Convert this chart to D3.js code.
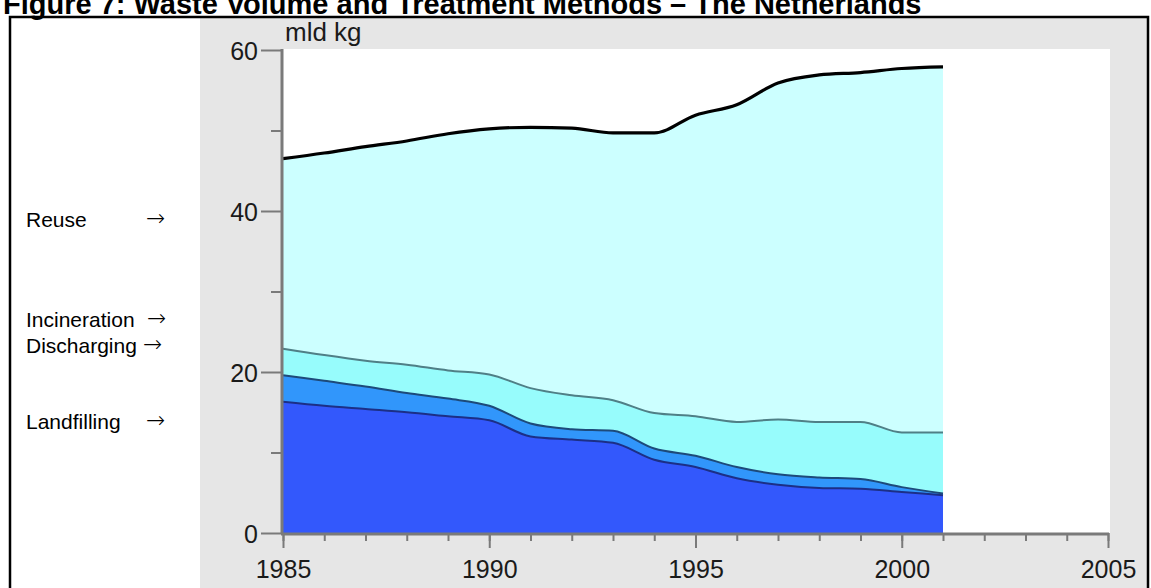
<!DOCTYPE html>
<html>
<head>
<meta charset="utf-8">
<script src="https://cdn.jsdelivr.net/npm/d3@7"></script>
<style>
  body { margin: 0; background: #ffffff; overflow: hidden; }
  svg { display: block; font-family: "Liberation Sans", Arial, sans-serif; }
</style>
</head>
<body>
<div id="chart"></div>
<script>
// values, mld kg per year
let years = [1985, 1986, 1987, 1988, 1989, 1990, 1991, 1992, 1993, 1994, 1995, 1996, 1997, 1998, 1999, 2000, 2001];
let landfilling  = [16.3, 15.8, 15.4, 15.0, 14.5, 14.0, 12.0, 11.6, 11.2, 9.1, 8.2, 6.8, 6.0, 5.6, 5.5, 5.1, 4.7];
let discharging  = [3.3, 3.1, 2.8, 2.4, 2.2, 1.8, 1.6, 1.3, 1.5, 1.4, 1.4, 1.4, 1.3, 1.3, 1.2, 0.6, 0.2];
let incineration = [3.3, 3.2, 3.2, 3.5, 3.5, 3.9, 4.4, 4.2, 3.8, 4.4, 4.9, 5.6, 6.8, 6.9, 7.1, 6.8, 7.6];
let reuse        = [23.6, 25.1, 26.6, 27.8, 29.4, 30.5, 32.4, 33.2, 33.2, 34.8, 37.4, 39.4, 41.8, 43.1, 43.4, 45.2, 45.4];

let seriesKeys = ["landfilling", "discharging", "incineration", "reuse"];
let fills   = ["#3358fc", "#3196fb", "#97fcfc", "#ccffff"];
let strokes = ["#1c2f86", "#1d4a7a", "#4f7f86", "#000000"];

let yMajor = [0, 20, 40, 60];
let yMinor = [10, 30, 50];
let xMajor = [1985, 1990, 1995, 2000, 2005];
let xMinor = d3.range(1985, 2006);

let legendLabels = ["Reuse", "Incineration", "Discharging", "Landfilling"];
let legendY = [227, 327, 353, 429];
let arrowX = [146, 147, 143, 146];

let width = 1151;
let height = 588;

let rows = years.map((yr, i) => ({
    year: yr,
    landfilling: landfilling[i],
    discharging: discharging[i],
    incineration: incineration[i],
    reuse: reuse[i]
}));

let stacked = d3.stack().keys(seriesKeys)(rows);

let svg = d3.select("#chart")
    .append("svg")
    .attr("width", width)
    .attr("height", height);

svg.append("rect")
    .attr("width", width).attr("height", height)
    .attr("fill", "#fff");

// title (cut by the top edge, as in the source)
svg.append("text")
    .attr("x", 3)
    .attr("y", 14)
    .attr("font-weight", "bold")
    .attr("font-size", "29px")
    .text("Figure 7: Waste Volume and Treatment Methods \u2013 The Netherlands");

// grey chart panel
svg.append("rect")
    .attr("x", 200).attr("y", 18)
    .attr("width", 948).attr("height", height)
    .attr("fill", "#e6e6e6");

// outer frame
svg.append("rect")
    .attr("x", 10).attr("y", 17)
    .attr("width", 1138).attr("height", height + 10)
    .attr("fill", "none")
    .attr("stroke", "#000")
    .attr("stroke-width", 2.5);

let x = d3.scaleLinear()
    .domain([1985, 2005])
    .range([283, 1108]);

let y = d3.scaleLinear()
    .domain([0, 60])
    .range([533, 50]);

// white plot area
svg.append("rect")
    .attr("x", x(1985)).attr("y", y(60) - 1)
    .attr("width", x(2005) - x(1985) + 2).attr("height", y(0) - y(60) + 1)
    .attr("fill", "#fff");

let area = d3.area()
    .x((d) => x(d.data.year))
    .y0((d) => y(d[0]))
    .y1((d) => y(d[1]))
    .curve(d3.curveMonotoneX);

let line = d3.line()
    .x((d) => x(d.data.year))
    .y((d) => y(d[1]))
    .curve(d3.curveMonotoneX);

svg.append("g")
    .selectAll("path")
    .data(stacked)
    .join("path")
        .attr("d", area)
        .attr("fill", (d, i) => fills[i]);

svg.append("g")
    .selectAll("path")
    .data(stacked)
    .join("path")
        .attr("d", line)
        .attr("fill", "none")
        .attr("stroke", (d, i) => strokes[i])
        .attr("stroke-width", (d, i) => i == 3 ? 3.2 : 2);

// axes
function styleAxis(g){
    g.select(".domain").remove();
    g.selectAll("line").attr("stroke", "#7a7a7a").attr("stroke-width", 2);
    g.selectAll("text").attr("fill", "#1a1a1a").attr("font-size", "25px").attr("font-family", "\"Liberation Sans\", Arial, sans-serif");
}

svg.append("g")
    .attr("transform", `translate(${x(1985) - 1}, 0)`)
    .call(d3.axisLeft(y).tickValues(yMinor).tickSize(11).tickFormat(""))
    .call(styleAxis);

svg.append("g")
    .attr("transform", `translate(${x(1985) - 1}, 0)`)
    .call(d3.axisLeft(y).tickValues(yMajor).tickSize(21).tickPadding(3).tickFormat(d3.format("d")))
    .call(styleAxis)
    .selectAll("text").attr("dy", "0.38em");

svg.append("g")
    .attr("transform", `translate(0, ${y(0)})`)
    .call(d3.axisBottom(x).tickValues(xMinor).tickSize(8).tickFormat(""))
    .call(styleAxis);

svg.append("g")
    .attr("transform", `translate(0, ${y(0)})`)
    .call(d3.axisBottom(x).tickValues(xMajor).tickSize(15).tickPadding(12).tickFormat(d3.format("d")))
    .call(styleAxis);

// axis lines
svg.append("line")
    .attr("x1", x(1985) - 1).attr("x2", x(1985) - 1)
    .attr("y1", y(60) - 1).attr("y2", y(0) + 1)
    .attr("stroke", "#7a7a7a").attr("stroke-width", 3);

svg.append("line")
    .attr("x1", x(1985) - 2).attr("x2", x(2005) + 1)
    .attr("y1", y(0) + 1).attr("y2", y(0) + 1)
    .attr("stroke", "#7a7a7a").attr("stroke-width", 3);

svg.append("text")
    .attr("x", 285)
    .attr("y", 41)
    .attr("font-size", "26px")
    .attr("fill", "#1a1a1a")
    .text("mld kg");

// labels on the left
svg.append("g")
    .selectAll("text")
    .data(legendLabels)
    .join("text")
        .attr("x", 26)
        .attr("y", (d, i) => legendY[i])
        .attr("font-size", "21px")
        .text((d) => d);

svg.append("g")
    .selectAll("text")
    .data(legendLabels)
    .join("text")
        .attr("x", (d, i) => arrowX[i])
        .attr("y", (d, i) => legendY[i] - 1)
        .attr("font-size", "23px")
        .attr("font-family", "\"DejaVu Sans\", sans-serif")
        .attr("font-weight", 300)
        .text("\u2192");
</script>
</body>
</html>
